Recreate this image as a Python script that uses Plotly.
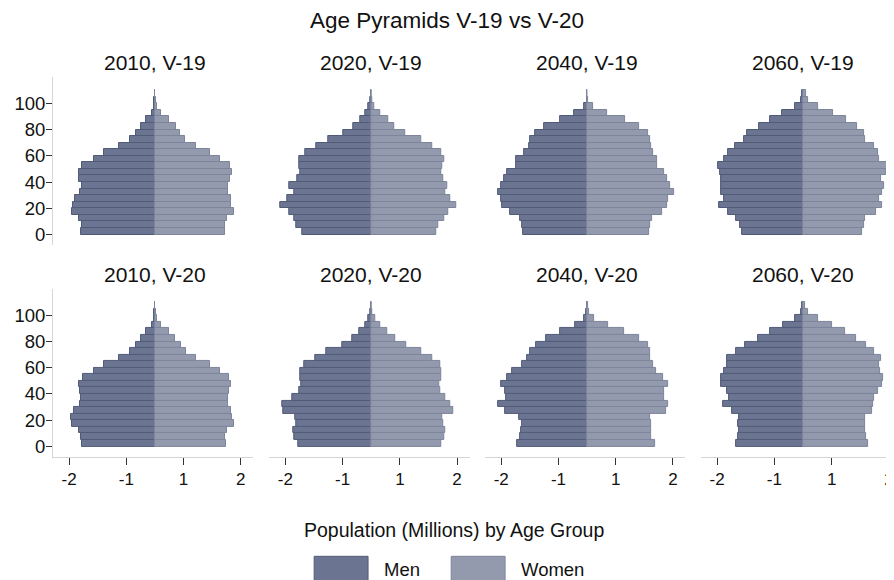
import plotly.graph_objects as go

# ---------------- data ----------------
age_groups = [0, 5, 10, 15, 20, 25, 30, 35, 40, 45, 50, 55, 60, 65, 70, 75, 80, 85, 90, 95, 100, 105]
years = ["2010", "2020", "2040", "2060"]
vintages = ["V-19", "V-20"]
x_tick_values = [-2, -2 / 3, 2 / 3, 2]
x_tick_labels = ["-2", "-1", "1", "2"]
y_tick_values = [0, 20, 40, 60, 80, 100]

men_2010_v19 = [1.72, 1.70, 1.76, 1.93, 1.92, 1.87, 1.74, 1.70, 1.76, 1.78, 1.69, 1.43, 1.18, 0.83, 0.58, 0.45, 0.33, 0.21, 0.08, 0.02, 0.015, 0.005]
women_2010_v19 = [1.64, 1.64, 1.68, 1.83, 1.76, 1.78, 1.70, 1.70, 1.74, 1.80, 1.74, 1.51, 1.28, 0.95, 0.71, 0.58, 0.48, 0.33, 0.15, 0.05, 0.03, 0.01]
men_2020_v19 = [1.61, 1.75, 1.79, 1.92, 2.11, 1.96, 1.79, 1.90, 1.73, 1.66, 1.68, 1.68, 1.54, 1.27, 1.01, 0.66, 0.42, 0.26, 0.14, 0.06, 0.015, 0.005]
women_2020_v19 = [1.52, 1.57, 1.71, 1.80, 1.98, 1.83, 1.73, 1.78, 1.67, 1.64, 1.66, 1.71, 1.62, 1.42, 1.17, 0.79, 0.53, 0.39, 0.22, 0.08, 0.03, 0.01]
men_2040_v19 = [1.50, 1.52, 1.57, 1.80, 1.97, 2.00, 2.07, 2.00, 1.94, 1.86, 1.66, 1.66, 1.46, 1.36, 1.32, 1.21, 0.99, 0.62, 0.30, 0.07, 0.01, 0.005]
women_2040_v19 = [1.44, 1.46, 1.51, 1.74, 1.86, 1.88, 2.02, 1.93, 1.86, 1.79, 1.63, 1.64, 1.53, 1.49, 1.46, 1.41, 1.21, 0.88, 0.46, 0.14, 0.03, 0.01]
men_2060_v19 = [1.42, 1.47, 1.55, 1.75, 1.96, 1.85, 1.90, 1.92, 1.92, 1.94, 1.98, 1.85, 1.74, 1.59, 1.38, 1.30, 1.02, 0.76, 0.48, 0.18, 0.04, 0.02]
women_2060_v19 = [1.38, 1.42, 1.45, 1.69, 1.83, 1.78, 1.83, 1.88, 1.81, 1.94, 1.98, 1.78, 1.74, 1.66, 1.45, 1.43, 1.25, 1.01, 0.70, 0.35, 0.11, 0.06]

men_2010_v20 = [1.71, 1.72, 1.76, 1.93, 1.95, 1.88, 1.74, 1.73, 1.74, 1.76, 1.68, 1.43, 1.18, 0.83, 0.58, 0.45, 0.33, 0.21, 0.08, 0.02, 0.015, 0.005]
women_2010_v20 = [1.65, 1.64, 1.68, 1.83, 1.80, 1.78, 1.70, 1.70, 1.73, 1.78, 1.73, 1.51, 1.28, 0.95, 0.72, 0.60, 0.47, 0.33, 0.15, 0.05, 0.03, 0.01]
men_2020_v20 = [1.69, 1.79, 1.81, 1.75, 1.77, 2.04, 2.07, 1.84, 1.68, 1.64, 1.65, 1.66, 1.56, 1.31, 1.04, 0.68, 0.45, 0.27, 0.14, 0.06, 0.015, 0.005]
women_2020_v20 = [1.62, 1.69, 1.73, 1.67, 1.66, 1.91, 1.83, 1.73, 1.61, 1.59, 1.62, 1.63, 1.61, 1.42, 1.17, 0.81, 0.56, 0.37, 0.22, 0.10, 0.03, 0.01]
men_2040_v20 = [1.63, 1.55, 1.53, 1.52, 1.58, 1.91, 2.07, 1.88, 1.90, 2.00, 1.86, 1.74, 1.52, 1.39, 1.32, 1.18, 0.96, 0.62, 0.29, 0.07, 0.02, 0.005]
women_2040_v20 = [1.58, 1.49, 1.50, 1.49, 1.47, 1.83, 1.88, 1.79, 1.79, 1.88, 1.77, 1.60, 1.54, 1.47, 1.47, 1.41, 1.21, 0.86, 0.48, 0.16, 0.04, 0.015]
men_2060_v20 = [1.57, 1.51, 1.50, 1.52, 1.48, 1.65, 1.86, 1.72, 1.78, 1.91, 1.90, 1.84, 1.78, 1.78, 1.56, 1.34, 1.04, 0.76, 0.46, 0.18, 0.05, 0.015]
women_2060_v20 = [1.52, 1.46, 1.45, 1.44, 1.44, 1.60, 1.64, 1.65, 1.74, 1.85, 1.86, 1.80, 1.78, 1.82, 1.66, 1.47, 1.24, 0.98, 0.68, 0.35, 0.12, 0.045]

men_series = {
    ("2010", "V-19"): men_2010_v19, ("2020", "V-19"): men_2020_v19,
    ("2040", "V-19"): men_2040_v19, ("2060", "V-19"): men_2060_v19,
    ("2010", "V-20"): men_2010_v20, ("2020", "V-20"): men_2020_v20,
    ("2040", "V-20"): men_2040_v20, ("2060", "V-20"): men_2060_v20,
}
women_series = {
    ("2010", "V-19"): women_2010_v19, ("2020", "V-19"): women_2020_v19,
    ("2040", "V-19"): women_2040_v19, ("2060", "V-19"): women_2060_v19,
    ("2010", "V-20"): women_2010_v20, ("2020", "V-20"): women_2020_v20,
    ("2040", "V-20"): women_2040_v20, ("2060", "V-20"): women_2060_v20,
}

# ---------------- styling ----------------
OFF = 8  # default page margin of the html body
W, H = 894 - OFF, 580 - OFF
FONT = "Liberation Sans, Arial, Helvetica, sans-serif"
MEN_FILL, MEN_LINE = "#6b7592", "#515b78"
WOMEN_FILL, WOMEN_LINE = "#939aae", "#7d859b"
AXIS_LINE = "#d6d6d6"
TICK_COLOR = "#333333"
TEXT_COLOR = "#111111"

# page-pixel geometry
plot_left_pg, plot_right_pg = 53.3, 894.0
plot_top_pg, plot_bottom_pg = 77.0, 457.3

m_l = plot_left_pg - OFF
m_t = plot_top_pg - OFF
m_r = 0
m_b = H - (plot_bottom_pg - OFF)
pw = W - m_l - m_r
ph = H - m_t - m_b

def px_x(p):
    return (p - OFF - m_l) / pw

def px_y(p):
    return (H - m_b - (p - OFF)) / ph

col_left = [53.3, 270.0, 486.3, 702.7]
col_width = 200.7
row_top = [77.0, 289.1]
row_height = 168.2
x_range_full = [-2.375, 2.29]
y_range = [-8, 120]

fig = go.Figure()
layout_axes = {}
annotations = []

idx = 0
for r, vint in enumerate(vintages):
    for c, yr in enumerate(years):
        idx += 1
        xa = "x" if idx == 1 else f"x{idx}"
        ya = "y" if idx == 1 else f"y{idx}"
        men = men_series[(yr, vint)]
        women = women_series[(yr, vint)]
        fig.add_trace(go.Bar(
            y=age_groups, x=[-v for v in men], orientation="h",
            width=5, offset=0, xaxis=xa, yaxis=ya,
            marker=dict(color=MEN_FILL, line=dict(color=MEN_LINE, width=1)),
            name="Men", showlegend=False,
        ))
        fig.add_trace(go.Bar(
            y=age_groups, x=women, orientation="h",
            width=5, offset=0, xaxis=xa, yaxis=ya,
            marker=dict(color=WOMEN_FILL, line=dict(color=WOMEN_LINE, width=1)),
            name="Women", showlegend=False,
        ))
        x0 = px_x(col_left[c])
        right_pg = col_left[c] + col_width
        xr = list(x_range_full)
        if right_pg > plot_right_pg:
            visible_px = plot_right_pg - col_left[c]
            xr = [x_range_full[0],
                  x_range_full[0] + (x_range_full[1] - x_range_full[0]) * visible_px / col_width]
            right_pg = plot_right_pg
        x1 = min(1.0, px_x(right_pg))
        y1 = min(1.0, px_y(row_top[r]))
        y0 = max(0.0, px_y(row_top[r] + row_height))
        bottom = (r == 1)
        xkey = "xaxis" if idx == 1 else f"xaxis{idx}"
        ykey = "yaxis" if idx == 1 else f"yaxis{idx}"
        layout_axes[xkey] = dict(
            domain=[x0, x1], anchor=ya, range=xr, fixedrange=True,
            showgrid=False, zeroline=False,
            showline=bottom, linecolor=AXIS_LINE, linewidth=1,
            ticks="outside" if bottom else "", ticklen=7, tickwidth=1, tickcolor=TICK_COLOR,
            showticklabels=bottom, tickvals=x_tick_values, ticktext=x_tick_labels,
            ticklabeloverflow="allow",
            tickfont=dict(family=FONT, size=17, color=TEXT_COLOR),
        )
        first_col = (c == 0)
        layout_axes[ykey] = dict(
            domain=[y0, y1], anchor=xa, range=y_range, fixedrange=True,
            showgrid=False, zeroline=False,
            showline=first_col, linecolor=AXIS_LINE, linewidth=1,
            ticks="outside" if first_col else "", ticklen=6, tickwidth=1, tickcolor=TICK_COLOR,
            showticklabels=first_col, tickvals=y_tick_values,
            ticklabelstandoff=-3,
            tickfont=dict(family=FONT, size=18.5, color=TEXT_COLOR),
        )
        annotations.append(dict(
            text=f"{yr}, {vint}", xref=xa, yref="paper", x=0,
            y=px_y(row_top[r] - 14.5), xanchor="center", yanchor="middle",
            showarrow=False, font=dict(family=FONT, size=21, color=TEXT_COLOR),
        ))

annotations.append(dict(
    text="Population (Millions) by Age Group", xref="paper", yref="paper",
    x=px_x(455), y=px_y(530), xanchor="center", yanchor="middle",
    showarrow=False, font=dict(family=FONT, size=19.5, color=TEXT_COLOR),
))

# legend (drawn manually to get the large swatches)
legend_items = [("Men", MEN_FILL, MEN_LINE, 315.0, 383.3), ("Women", WOMEN_FILL, WOMEN_LINE, 452.3, 520.7)]
shapes = []
for name, fill, line, sx, tx in legend_items:
    shapes.append(dict(type="rect", xref="paper", yref="paper",
                       x0=px_x(sx), x1=px_x(sx + 54), y0=px_y(583), y1=px_y(556.7),
                       fillcolor=fill, line=dict(color=line, width=1)))
    annotations.append(dict(text=name, xref="paper", yref="paper", x=px_x(tx), y=px_y(569.5),
                            xanchor="left", yanchor="middle", showarrow=False,
                            font=dict(family=FONT, size=18.5, color=TEXT_COLOR)))

fig.update_layout(
    width=W, height=H,
    margin=dict(l=m_l, r=m_r, t=m_t, b=m_b, pad=0),
    paper_bgcolor="white", plot_bgcolor="white",
    barmode="overlay", bargap=0,
    showlegend=False,
    title=dict(text="Age Pyramids V-19 vs V-20", x=0.5 * 894 / W - OFF / W, xanchor="center",
               y=1 - (20 - OFF) / H, yanchor="middle",
               font=dict(family=FONT, size=22.5, color=TEXT_COLOR)),
    annotations=annotations, shapes=shapes,
    **layout_axes,
)

fig.write_html("out.html")
